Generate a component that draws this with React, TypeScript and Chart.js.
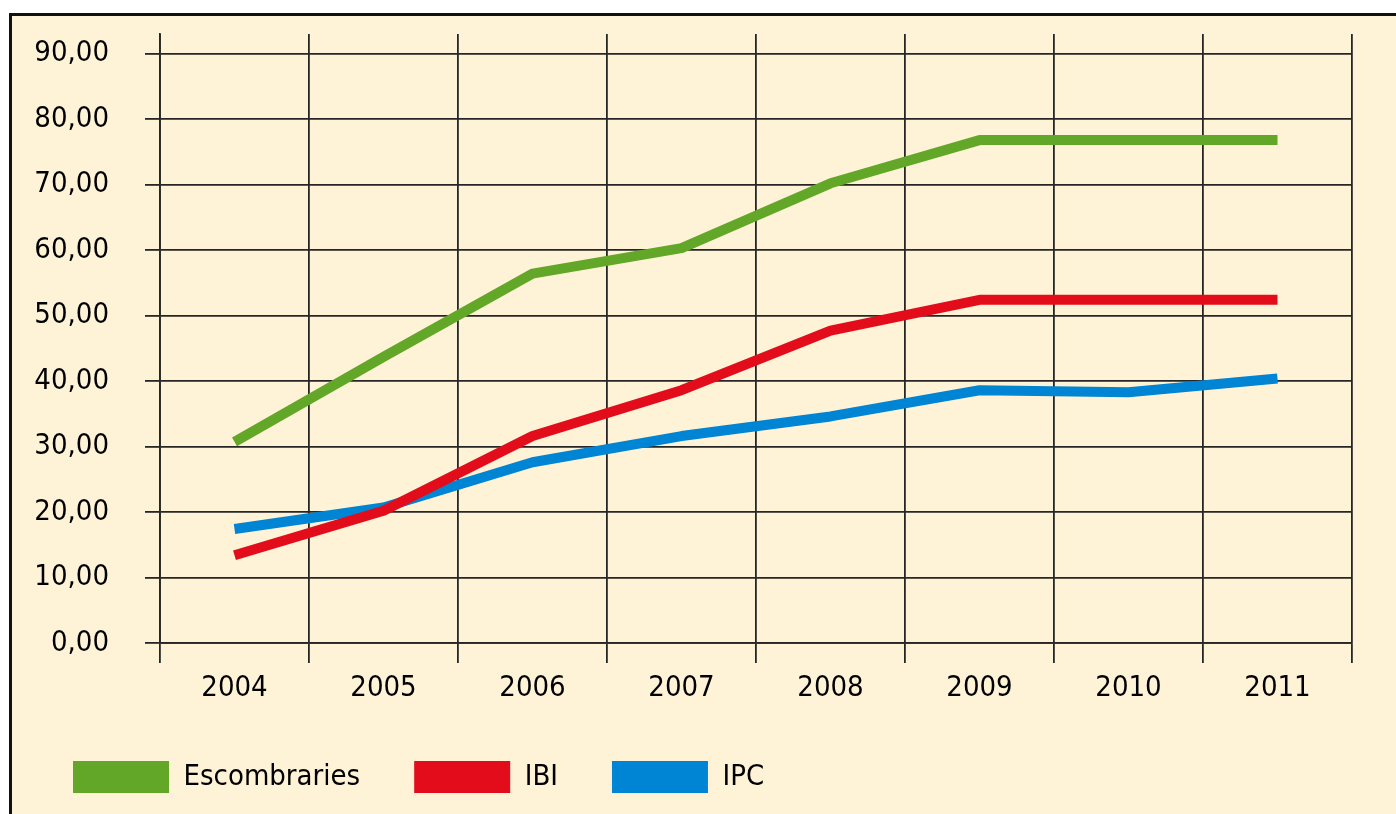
import React, { useEffect, useRef } from "react";
import { Chart, registerables } from "chart.js";

Chart.register(...registerables);

const years = ["2004", "2005", "2006", "2007", "2008", "2009", "2010", "2011"];
const escombraries = [30.7, 43.7, 56.4, 60.3, 70.2, 76.8, 76.8, 76.8];
const ibi = [13.4, 20.2, 31.6, 38.6, 47.7, 52.4, 52.4, 52.4];
const ipc = [17.4, 20.7, 27.6, 31.6, 34.6, 38.6, 38.3, 40.4];
const yTicks = [0, 10, 20, 30, 40, 50, 60, 70, 80, 90];
const Y_MAX = 93;

const FONT_FAMILY = "'DejaVu Sans Condensed', 'DejaVu Sans', sans-serif";
const GRID = "#262626";

export default function App() {
  const ref = useRef<HTMLCanvasElement | null>(null);

  useEffect(() => {
    if (!ref.current) return;
    const font = { family: FONT_FAMILY, size: 29 };
    const chart = new Chart(ref.current, {
      type: "line",
      data: {
        labels: years,
        datasets: [
          { label: "Escombraries", data: escombraries, borderColor: "#63A729", backgroundColor: "#63A729" },
          { label: "IBI", data: ibi, borderColor: "#E20C1A", backgroundColor: "#E20C1A" },
          { label: "IPC", data: ipc, borderColor: "#0084D4", backgroundColor: "#0084D4" },
        ].map((d) => ({
          ...d,
          borderWidth: 10,
          pointRadius: 0,
          pointHoverRadius: 0,
          borderCapStyle: "butt" as const,
          borderJoinStyle: "round" as const,
          tension: 0,
        })),
      },
      options: {
        responsive: false,
        animation: false,
        events: [],
        layout: { padding: { top: 18, right: 44, bottom: 0, left: 7 } },
        plugins: {
          tooltip: { enabled: false },
          legend: {
            position: "bottom",
            align: "start",
            labels: {
              boxWidth: 96,
              boxHeight: 32,
              padding: 54,
              color: "#000",
              font,
              generateLabels: (c: any) =>
                Chart.defaults.plugins.legend.labels
                  .generateLabels(c)
                  .map((l: any) => ({ ...l, lineWidth: 0 })),
            },
          },
        },
        scales: {
          x: {
            type: "category",
            offset: true,
            grid: { offset: true, color: GRID, lineWidth: 1.8, tickLength: 20, drawTicks: true },
            border: { display: true, color: GRID, width: 1.8 },
            ticks: { color: "#000", font, padding: 8, maxRotation: 0, autoSkip: false },
            afterFit: (s: any) => {
              s.height = 64;
              s.paddingLeft = 0;
              s.paddingRight = 0;
            },
          },
          y: {
            min: 0,
            max: Y_MAX,
            afterBuildTicks: (s: any) => {
              s.ticks = yTicks.map((v) => ({ value: v }));
            },
            grid: { color: GRID, lineWidth: 1.8, tickLength: 15 },
            border: { display: true, color: GRID, width: 1.8 },
            ticks: {
              color: "#000",
              font,
              padding: 36,
              callback: (v: any) => Number(v).toFixed(2).replace(".", ","),
            },
            afterFit: (s: any) => {
              s.width = 141;
              s.paddingTop = 0;
              s.paddingBottom = 0;
            },
          },
        },
      } as any,
    });
    return () => chart.destroy();
  }, []);

  return (
    <div
      style={{
        position: "fixed",
        left: 0,
        top: 0,
        width: 1396,
        height: 814,
        overflow: "hidden",
        background: "#ffffff",
      }}
    >
      <div
        style={{
          position: "absolute",
          left: 9,
          top: 13,
          width: 1400,
          height: 820,
          border: "3px solid #111",
          background: "#FFF3D7",
        }}
      >
        <canvas
          ref={ref}
          width={1384}
          height={787}
          style={{ position: "absolute", left: 0, top: 0, width: 1384, height: 787 }}
        />
      </div>
    </div>
  );
}
